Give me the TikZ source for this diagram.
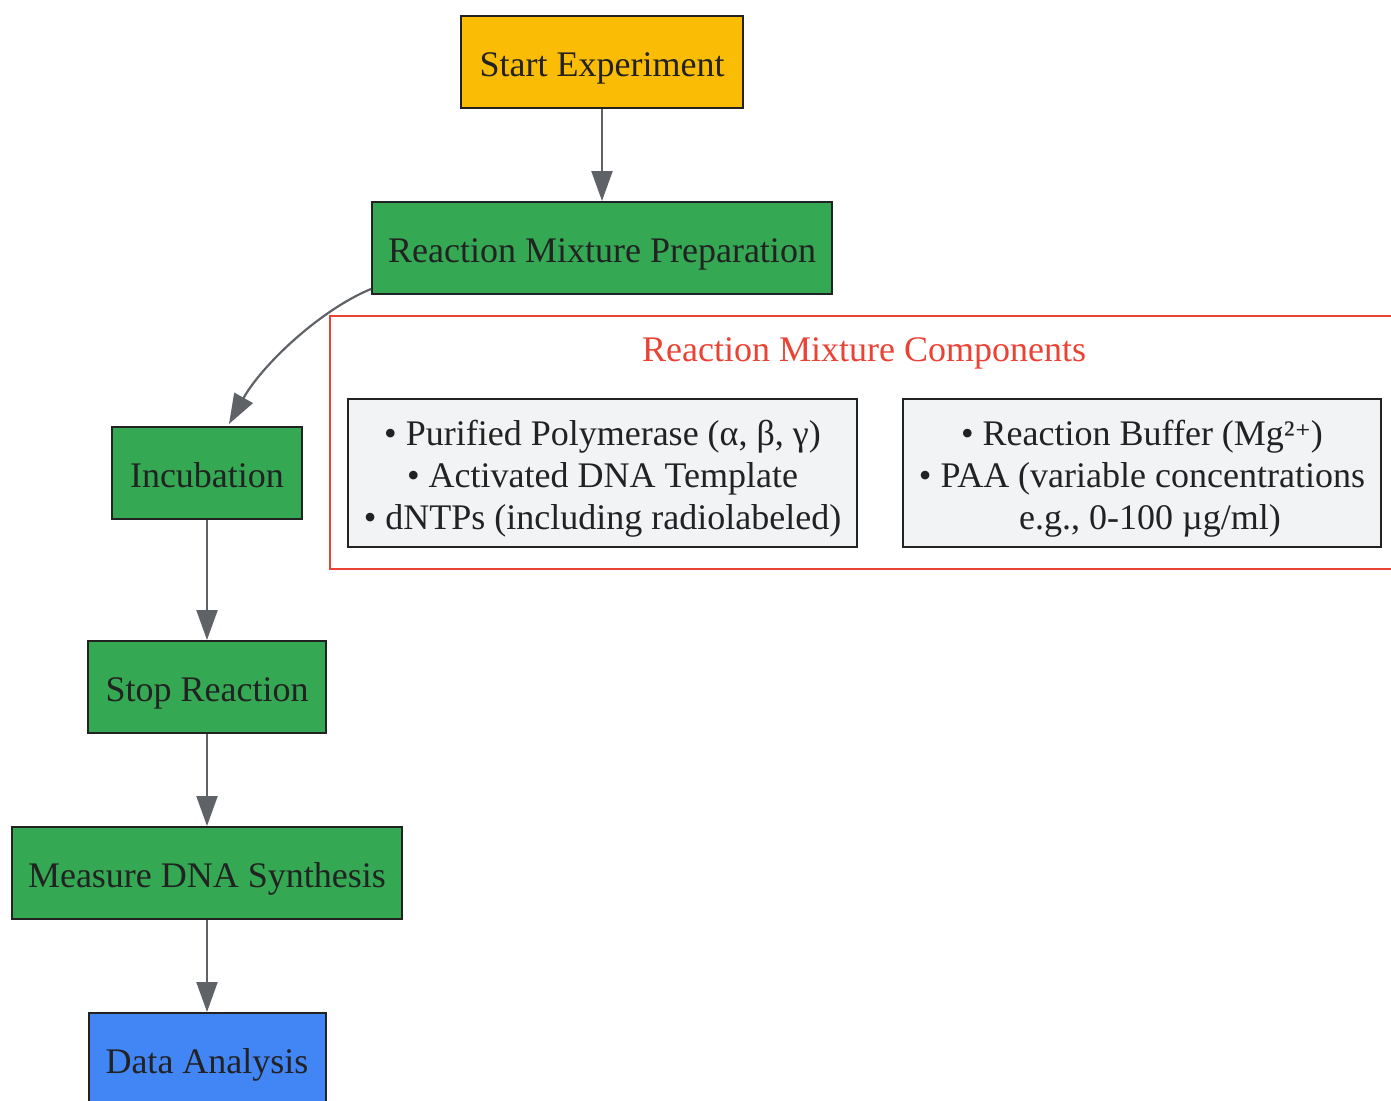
\documentclass[tikz,border=0pt]{standalone}
\usepackage{fontspec}
\setmainfont{Liberation Serif}
\newfontfamily\supfont[Scale=0.85]{DejaVu Serif}
\usetikzlibrary{arrows.meta,calc}
\definecolor{txt}{HTML}{222222}
\definecolor{edge}{HTML}{5F6368}
\definecolor{gyellow}{HTML}{FBBC05}
\definecolor{ggreen}{HTML}{34A853}
\definecolor{gblue}{HTML}{4285F4}
\definecolor{gred}{HTML}{EA4335}
\definecolor{ggrey}{HTML}{F1F3F4}
\newcommand\tstr{\rule{0pt}{37pt}}
\newcommand\bstr{\rule[-9pt]{0pt}{9pt}}
\tikzset{
  box/.style={draw=txt, line width=2pt, inner sep=0pt, align=center, text=txt,
    font=\fontsize{36}{42}\selectfont},
  flow/.style={draw=edge, line width=2.2pt, -{Triangle[length=30pt,width=21pt]}},
}
\begin{document}
\begin{tikzpicture}[x=1pt,y=-1pt]
\useasboundingbox (0,0) rectangle (1391,1100);
\clip (0,0) rectangle (1391,1100);
\fill[white] (0,0) rectangle (1391,1100);
% cluster
\node[draw=gred, line width=2pt, minimum width=1080pt, minimum height=253pt, inner sep=0pt, anchor=north west] (cluster) at (329,315) {};
\node[text=gred, inner sep=0pt, font=\fontsize{36}{42}\selectfont] (ctitle) at (864,347) {\tstr Reaction Mixture Components\bstr};
\node[box, fill=ggrey, minimum width=509pt, minimum height=148pt] (comp1) at (602.5,473) {\tstr• Purified Polymerase (α, β, γ)\\• Activated DNA Template\\• dNTPs (including radiolabeled)\bstr};
\node[box, fill=ggrey, minimum width=478pt, minimum height=148pt] (comp2) at (1142,473) {\tstr• Reaction Buffer (Mg²{\supfont ⁺})\\• PAA (variable concentrations\\\hspace*{16pt}e.g., 0-100 µg/ml)\bstr};
% flow nodes
\node[box, fill=gyellow, minimum width=282pt, minimum height=92pt] (start) at (602,62) {\tstr Start Experiment\bstr};
\node[box, fill=ggreen, minimum width=460pt, minimum height=92pt] (prep) at (602,248) {\tstr Reaction Mixture Preparation\bstr};
\node[box, fill=ggreen, minimum width=190pt, minimum height=92pt] (incub) at (207,473) {\tstr Incubation\bstr};
\node[box, fill=ggreen, minimum width=238pt, minimum height=92pt] (stop) at (207,687) {\tstr Stop Reaction\bstr};
\node[box, fill=ggreen, minimum width=390pt, minimum height=92pt] (measure) at (207,873) {\tstr Measure DNA Synthesis\bstr};
\node[box, fill=gblue, minimum width=237pt, minimum height=92pt] (data) at (207,1059) {\tstr Data Analysis\bstr};
% connectors
\draw[flow] (start.south) -- (prep.north);
\draw[flow] ($(prep.south west)+(0,-6)$) .. controls (320,310) and (262,365) .. ($(incub.north)+(22,-2)$);
\draw[flow] (incub.south) -- (stop.north);
\draw[flow] (stop.south) -- (measure.north);
\draw[flow] (measure.south) -- (data.north);
\end{tikzpicture}
\end{document}
